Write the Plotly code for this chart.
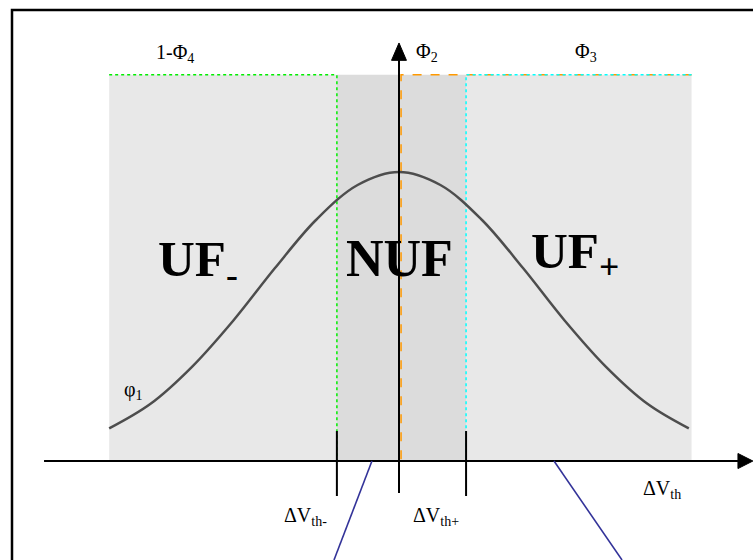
import plotly.graph_objects as go

# Threshold-voltage distribution split into failure regions
curve_x = [-2.1, -1.8, -1.5, -1.2, -0.9, -0.6, -0.3, 0.0, 0.3, 0.6, 0.9, 1.2, 1.5, 1.8, 2.1]
curve_y = [0.045, 0.079, 0.130, 0.194, 0.266, 0.333, 0.381, 0.399, 0.381, 0.333, 0.266, 0.194, 0.130, 0.079, 0.045]

band_left, band_right = -2.10, 2.12
dvth_minus, dvth_plus = -0.45, 0.486
band_top = 0.533

region_edges = [band_left, dvth_minus, dvth_plus, band_right]
region_fill = ["#e8e8e8", "#dcdcdc", "#e8e8e8"]

X_RANGE = [-2.891, 2.565]
Y_RANGE = [-0.1366, 0.6363]

SERIF = "Liberation Serif, Times New Roman, serif"

fig = go.Figure()
shapes = []

# shaded regions
for i, col in enumerate(region_fill):
    shapes.append(dict(type="rect", xref="x", yref="y", layer="below",
                       x0=region_edges[i], x1=region_edges[i + 1], y0=0, y1=band_top,
                       fillcolor=col, line=dict(width=0)))

# region outlines (cumulative areas)
orange_x = 0.015
outline = [
    ([band_right, band_left], [0, 0], "#00ee00", "dot"),
    ([band_left, dvth_minus, dvth_minus], [band_top, band_top, 0], "#00ee00", "dot"),
    ([band_left, dvth_minus], [0, 0], "#ff9900", "dash"),
    ([band_right, orange_x, orange_x], [band_top, band_top, 0], "#ff9900", "dash"),
    ([band_right, dvth_plus, dvth_plus], [band_top, band_top, 0], "#00ffff", "dot"),
]
for xs, ys, col, dash in outline:
    fig.add_trace(go.Scatter(x=xs, y=ys, mode="lines", hoverinfo="skip",
                             line=dict(color=col, width=1.5, dash=dash), showlegend=False))

# density curve
fig.add_trace(go.Scatter(x=curve_x, y=curve_y, mode="lines", hoverinfo="skip",
                         line=dict(color="#4d4d4d", width=2.5, shape="spline"), showlegend=False))

# axes with arrow heads
x_axis_start, x_axis_end, x_tip = -2.572, 2.456, 2.564
y_axis_bottom, y_axis_end, y_tip = -0.0442, 0.553, 0.577
fig.add_trace(go.Scatter(x=[x_axis_start, x_axis_end], y=[0, 0], mode="lines", hoverinfo="skip",
                         line=dict(color="black", width=2), showlegend=False))
fig.add_trace(go.Scatter(x=[0, 0], y=[y_axis_bottom, y_axis_end], mode="lines", hoverinfo="skip",
                         line=dict(color="black", width=2), showlegend=False))
fig.add_trace(go.Scatter(x=[x_axis_end, x_tip, x_axis_end, x_axis_end], y=[0.0104, 0, -0.0104, 0.0104],
                         mode="lines", fill="toself", fillcolor="black", hoverinfo="skip",
                         line=dict(color="black", width=1), showlegend=False))
fig.add_trace(go.Scatter(x=[-0.054, 0, 0.054, -0.054], y=[y_axis_end, y_tip, y_axis_end, y_axis_end],
                         mode="lines", fill="toself", fillcolor="black", hoverinfo="skip",
                         line=dict(color="black", width=1), showlegend=False))

# threshold tick marks
for xv in [dvth_minus, dvth_plus]:
    fig.add_trace(go.Scatter(x=[xv, xv], y=[0.0414, -0.0483], mode="lines", hoverinfo="skip",
                             line=dict(color="black", width=2), showlegend=False))

# callout leaders
for xs in ([-0.196, -0.471], [1.123, 1.616]):
    fig.add_trace(go.Scatter(x=xs, y=[0, Y_RANGE[0]], mode="lines", hoverinfo="skip",
                             line=dict(color="#333399", width=1.6), showlegend=False))

# outer frame
shapes.append(dict(type="rect", xref="paper", yref="paper", x0=12 / 753, x1=1.05,
                   y0=-0.05, y1=1 - 10 / 560, line=dict(color="black", width=2.5)))

labels = [
    ("1-Φ<sub>4</sub>", -1.775, 0.562, 20, False, "left"),
    ("Φ<sub>2</sub>", 0.112, 0.564, 20, False, "left"),
    ("Φ<sub>3</sub>", 1.262, 0.564, 20, False, "left"),
    ("φ<sub>1</sub>", -2.005, 0.098, 20, False, "left"),
    ("UF<sub>-</sub>", -1.76, 0.274, 51, True, "left"),
    ("NUF", 0.007, 0.2800, 52, True, "center"),
    ("UF<sub>+</sub>", 0.945, 0.284, 51, True, "left"),
    ("ΔV<sub>th-</sub>", -0.848, -0.077, 20, False, "left"),
    ("ΔV<sub>th+</sub>", 0.088, -0.076, 20, False, "left"),
    ("ΔV<sub>th</sub>", 1.755, -0.039, 20, False, "left"),
]
annotations = []
for text, xv, yv, size, bold, anchor in labels:
    if bold:
        text = "<b>" + text + "</b>"
    annotations.append(dict(text=text, x=xv, y=yv, xref="x", yref="y", showarrow=False,
                            xanchor=anchor, yanchor="middle",
                            font=dict(family=SERIF, size=size, color="black")))

fig.update_layout(
    width=753, height=560,
    margin=dict(l=0, r=0, t=0, b=0),
    paper_bgcolor="white", plot_bgcolor="white",
    xaxis=dict(range=X_RANGE, visible=False, fixedrange=True),
    yaxis=dict(range=Y_RANGE, visible=False, fixedrange=True),
    shapes=shapes, annotations=annotations, showlegend=False,
)

fig.write_html("out.html")
